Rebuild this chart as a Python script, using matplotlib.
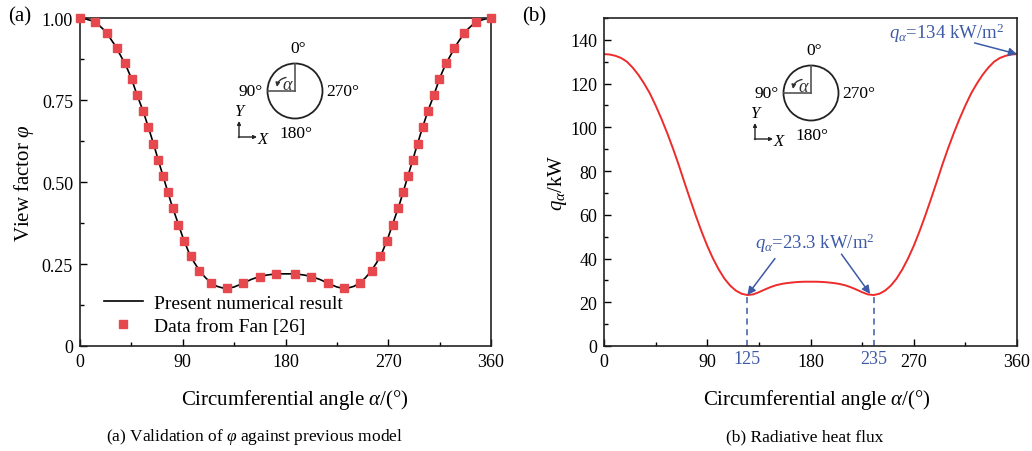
import numpy as np
import matplotlib
matplotlib.use("Agg")
import matplotlib.pyplot as plt
from matplotlib.patches import Circle, FancyArrowPatch
from matplotlib.ticker import MultipleLocator
import matplotlib.transforms as mtransforms

plt.rcParams['font.family'] = ['Liberation Serif', 'DejaVu Serif']
plt.rcParams['mathtext.fontset'] = 'custom'
plt.rcParams['mathtext.rm'] = 'Liberation Serif'
plt.rcParams['mathtext.it'] = 'Liberation Serif:italic'
plt.rcParams['mathtext.bf'] = 'Liberation Serif:bold'

# ---------------- data ----------------
angle_line = list(range(0, 361, 5))
phi_half = [1.000, 0.997, 0.992, 0.983, 0.967, 0.946, 0.920, 0.889, 0.857, 0.816,
            0.765, 0.719, 0.666, 0.609, 0.550, 0.492, 0.434, 0.383, 0.332, 0.288,
            0.255, 0.228, 0.208, 0.192, 0.182, 0.177, 0.176, 0.180, 0.187, 0.195,
            0.203, 0.209, 0.214, 0.217, 0.219, 0.220, 0.220]
phi_line = phi_half + phi_half[-2::-1]

fan_angle = [0, 13.1, 23.6, 32.1, 39.2, 45.3, 49.9, 55.0, 59.8, 64.1, 68.5, 72.6,
             77.0, 81.2, 86.2, 91.1, 97.1, 104.6, 114.5, 128.8, 143.1, 157.4, 171.7,
             188.3, 202.6, 216.9, 231.2, 245.5, 255.4, 262.9, 268.9, 273.8, 278.8,
             283.0, 287.4, 291.5, 295.9, 300.2, 304.7, 310.1, 314.7, 320.8, 327.9,
             336.4, 346.9, 360]
fan_half = [1.000, 0.989, 0.953, 0.908, 0.862, 0.813, 0.766, 0.717, 0.667, 0.617,
            0.567, 0.517, 0.470, 0.421, 0.370, 0.321, 0.273, 0.229, 0.192, 0.176,
            0.191, 0.211, 0.218]
fan_phi = fan_half + fan_half[::-1]

q_half = [133.5, 133.3, 132.7, 131.7, 130.0, 127.3, 124.0, 120.0, 115.5, 110.0,
          104.0, 97.5, 90.5, 83.0, 75.0, 67.2, 59.6, 52.4, 45.8, 40.0,
          35.0, 30.8, 27.6, 25.3, 23.9, 23.3, 23.6, 24.6, 25.8, 26.9,
          27.8, 28.4, 28.8, 29.1, 29.3, 29.4, 29.4]
q_line = q_half + q_half[-2::-1]

min_angles = [125, 235]
q_min = 23.3
q_max = 133.5

W, H = 1032, 452
fig = plt.figure(figsize=(W / 100, H / 100), dpi=100)

BLUE = '#3d5aa6'
RED_M = '#e5484d'
RED_L = '#ee2b2b'
TICK_FS = 13
LAB_FS = 15


def style_axes(ax):
    ax.tick_params(which='both', direction='in', top=False, right=False,
                   labelsize=TICK_FS, pad=5)
    ax.tick_params(which='major', length=5, width=1.0)
    ax.tick_params(which='minor', length=3, width=1.0)
    for s in ax.spines.values():
        s.set_linewidth(1.2)
        s.set_color('#222222')


ax1 = fig.add_axes([80 / W, 105 / H, 411 / W, 328 / H])
ax2 = fig.add_axes([604 / W, 105 / H, 413 / W, 328 / H])

# ---------- panel (a) ----------
ax1.plot(angle_line, phi_line, color='black', lw=1.2, label='Present numerical result',
         zorder=2)
ax1.plot(fan_angle, fan_phi, ls='none', marker='s', ms=6, color=RED_M, mec=RED_M,
         label='Data from Fan [26]', zorder=3, clip_on=False)
ax1.set_xlim(0, 360)
ax1.set_ylim(0, 1.0)
ax1.xaxis.set_major_locator(MultipleLocator(90))
ax1.xaxis.set_minor_locator(MultipleLocator(45))
ax1.yaxis.set_major_locator(MultipleLocator(0.25))
ax1.yaxis.set_minor_locator(MultipleLocator(0.125))
ax1.set_yticks([0, 0.25, 0.5, 0.75, 1.0])
ax1.set_yticklabels(['0', '0.25', '0.50', '0.75', '1.00'])
style_axes(ax1)
ax1.set_ylabel(r'View factor $\varphi$', fontsize=LAB_FS, labelpad=4)
ax1.set_xlabel(r'Circumferential angle $\alpha$/(°)', fontsize=LAB_FS)
ax1.xaxis.set_label_coords(0.5 + 9 / 411, -0.125)
ax1.legend(loc='upper left', bbox_to_anchor=(0.058, 0.157), frameon=False,
           fontsize=14, handlelength=2.0, handletextpad=0.6, labelspacing=0.25,
           borderpad=0, borderaxespad=0)

# ---------- panel (b) ----------
ax2.plot(angle_line, q_line, color=RED_L, lw=1.4)
ax2.set_xlim(0, 360)
ax2.set_ylim(0, 150)
ax2.xaxis.set_major_locator(MultipleLocator(90))
ax2.xaxis.set_minor_locator(MultipleLocator(45))
ax2.yaxis.set_major_locator(MultipleLocator(20))
ax2.yaxis.set_minor_locator(MultipleLocator(10))
style_axes(ax2)
ax2.set_ylabel(r'$q_\alpha$/kW', fontsize=LAB_FS, labelpad=1)
ax2.set_xlabel(r'Circumferential angle $\alpha$/(°)', fontsize=LAB_FS)
ax2.xaxis.set_label_coords(0.5 + 6 / 413, -0.125)

for a in min_angles:
    ax2.plot([a, a], [0, q_min], ls=(0, (4, 3)), color=BLUE, lw=1.1)
    ax2.text(a, -0.012, str(a), transform=mtransforms.blended_transform_factory(
        ax2.transData, ax2.transAxes), ha='center', va='top', fontsize=TICK_FS,
        color=BLUE)

arrow_kw = dict(arrowstyle='-|>', color=BLUE, lw=1.1, mutation_scale=12,
                shrinkA=0, shrinkB=0)
ax2.annotate('', xy=(125, q_min), xytext=(149, 40), arrowprops=arrow_kw)
ax2.annotate('', xy=(232, q_min + 0.5), xytext=(207, 42), arrowprops=arrow_kw)
ax2.text(184, 47.5, r'$q_\alpha$=23.3 kW/m$^2$', ha='center', va='center',
         fontsize=13.5, color=BLUE)
ax2.annotate('', xy=(360, q_max), xytext=(323, 138.6), arrowprops=arrow_kw,
             annotation_clip=False)
ax2.text(349, 143.6, r'$q_\alpha$=134 kW/m$^2$', ha='right', va='center',
         fontsize=13.5, color=BLUE)

# ---------- panel labels and captions ----------
fig.text(8 / W, 1 - 17 / H, '(a)', fontsize=15, ha='left', va='center')
fig.text(522 / W, 1 - 17 / H, '(b)', fontsize=15, ha='left', va='center')
fig.text(254 / W, 1 - 437 / H, r'(a) Validation of $\varphi$ against previous model',
         fontsize=12.5, ha='center', va='center')
fig.text(805 / W, 1 - 437 / H, '(b) Radiative heat flux',
         fontsize=12.5, ha='center', va='center')


# ---------- inset circle diagrams ----------
def draw_inset(cx, cy):
    ax = fig.add_axes([(cx - 70) / W, (H - (cy + 55)) / H, 140 / W, 110 / H])
    ax.set_xlim(-70, 70)
    ax.set_ylim(-55, 55)
    ax.axis('off')
    r = 27.5
    ax.add_patch(Circle((0, 0), r, fill=False, lw=1.3, color='#222222'))
    ax.plot([0, 0], [0, r], color='#555555', lw=1.2)
    ax.plot([0, -r], [0, 0], color='#555555', lw=1.2)
    ax.add_patch(FancyArrowPatch((-9, 13.5), (-18, 4), connectionstyle='arc3,rad=0.35',
                                 arrowstyle='-|>', mutation_scale=6, lw=1.0,
                                 color='#333333', shrinkA=0, shrinkB=0))
    ax.text(-7, 6.5, r'$\alpha$', ha='center', va='center', fontsize=13, color='#333333')
    fs = 12.5
    ax.text(3, 43, '0°', ha='center', va='center', fontsize=fs)
    ax.text(-44, 0, '90°', ha='center', va='center', fontsize=fs)
    ax.text(48, 0, '270°', ha='center', va='center', fontsize=fs)
    ax.text(0.5, -42, '180°', ha='center', va='center', fontsize=fs)
    # XY axes
    x0, y0 = -56, -46
    ax.annotate('', xy=(x0, y0 + 16), xytext=(x0, y0 - 0.6),
                arrowprops=dict(arrowstyle='-|>', lw=1.0, color='#222222',
                                mutation_scale=5, shrinkA=0, shrinkB=0))
    ax.annotate('', xy=(x0 + 18, y0), xytext=(x0 - 0.6, y0),
                arrowprops=dict(arrowstyle='-|>', lw=1.0, color='#222222',
                                mutation_scale=5, shrinkA=0, shrinkB=0))
    ax.text(x0 + 1, y0 + 26, r'$Y$', ha='center', va='center', fontsize=12)
    ax.text(x0 + 25, y0 - 2, r'$X$', ha='center', va='center', fontsize=12)


draw_inset(295, 92)
draw_inset(811, 94)

fig.savefig('out.png', dpi=100)
